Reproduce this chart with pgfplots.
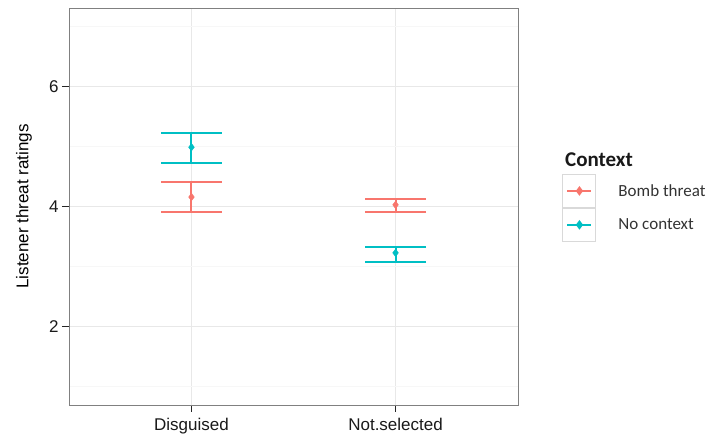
\documentclass[border=0pt]{standalone}
\usepackage{fontspec}
\setmainfont{Liberation Sans}
\newfontfamily\legfont{Carlito}
\usepackage{pgfplots}
\pgfplotsset{compat=1.18}
\definecolor{cred}{HTML}{F8766D}
\definecolor{cteal}{HTML}{00BFC4}
\begin{document}
\begin{tikzpicture}
\begin{axis}[name=ax, scale only axis, width=449pt, height=397pt,
  clip=false,
  xmin=0.4, xmax=2.6, ymin=0.695, ymax=7.31,
  xtick={1,2}, xticklabels={Disguised, Not.selected},
  ytick={2,4,6}, minor ytick={1,3,5,7},
  grid=both,
  major grid style={color=black!9, line width=0.9pt},
  minor grid style={color=black!3, line width=0.9pt},
  axis line style={draw=black!50, line width=0.9pt},
  tick style={black!85, line width=0.9pt},
  tick align=outside, major tick length=7pt, minor tick length=0pt,
  xtick pos=bottom, ytick pos=left,
  ticklabel style={font=\fontsize{17}{20}\selectfont, text=black!90},
  xticklabel style={yshift=-3pt},
  /pgf/number format/assume math mode=true,
  ylabel={Listener threat ratings},
  ylabel style={font=\fontsize{17}{20}\selectfont, at={(axis description cs:-0.1002,0.5)}, anchor=center},
  legend style={at={(axis description cs:1.098,0.5819)}, anchor=north west, draw=none, fill=none,
    inner sep=0pt, outer sep=0pt, row sep=0pt, column sep=0pt,
    font=\legfont\fontsize{17}{20}\selectfont, text=black!80,
    nodes={inner sep=0pt, outer sep=0pt}},
  legend cell align=left,
  legend image code/.code={
    \draw[black!15, line width=0.9pt, fill=white] (0pt,-16.5pt) rectangle (33pt,16.5pt);
    \draw[mark repeat=2, mark phase=2, #1] plot coordinates {(5pt,0pt) (17pt,0pt) (29pt,0pt)};
    \path[draw=none, fill=none] (33pt,0pt) rectangle (56pt,0.1pt);
  },
]
% Bomb threat
\addplot[cred, line width=2pt, forget plot] coordinates {(1,3.91) (1,4.41)};
\addplot[cred, line width=2pt, forget plot] coordinates {(2,3.91) (2,4.13)};
\addplot[cred, only marks, mark=-, mark size=30.5pt, mark options={line width=2pt}, forget plot]
  coordinates {(1,4.41) (1,3.91) (2,4.13) (2,3.91)};
\addplot[cred, only marks, mark=diamond*, mark size=3.8pt, forget plot]
  coordinates {(1,4.16) (2,4.03)};
% No context
\addplot[cteal, line width=2pt, forget plot] coordinates {(1,4.73) (1,5.22)};
\addplot[cteal, line width=2pt, forget plot] coordinates {(2,3.08) (2,3.32)};
\addplot[cteal, only marks, mark=-, mark size=30.5pt, mark options={line width=2pt}, forget plot]
  coordinates {(1,5.22) (1,4.73) (2,3.32) (2,3.08)};
\addplot[cteal, only marks, mark=diamond*, mark size=3.8pt, forget plot]
  coordinates {(1,4.99) (2,3.23)};
\addlegendimage{cred, mark=diamond*, mark size=3.6pt, line width=1.5pt}
\addlegendentry{Bomb threat}
\addlegendimage{cteal, mark=diamond*, mark size=3.6pt, line width=1.5pt}
\addlegendentry{No context}
\node[anchor=west, inner sep=0pt, font=\legfont\bfseries\fontsize{21}{24}\selectfont, text=black!90]
  at (axis description cs:1.1047,0.6171) {Context};
\end{axis}
\pgfresetboundingbox
\path[use as bounding box] ([xshift=-69pt,yshift=-32pt]ax.south west) rectangle ([xshift=194pt,yshift=8pt]ax.north east);
\end{tikzpicture}
\end{document}
